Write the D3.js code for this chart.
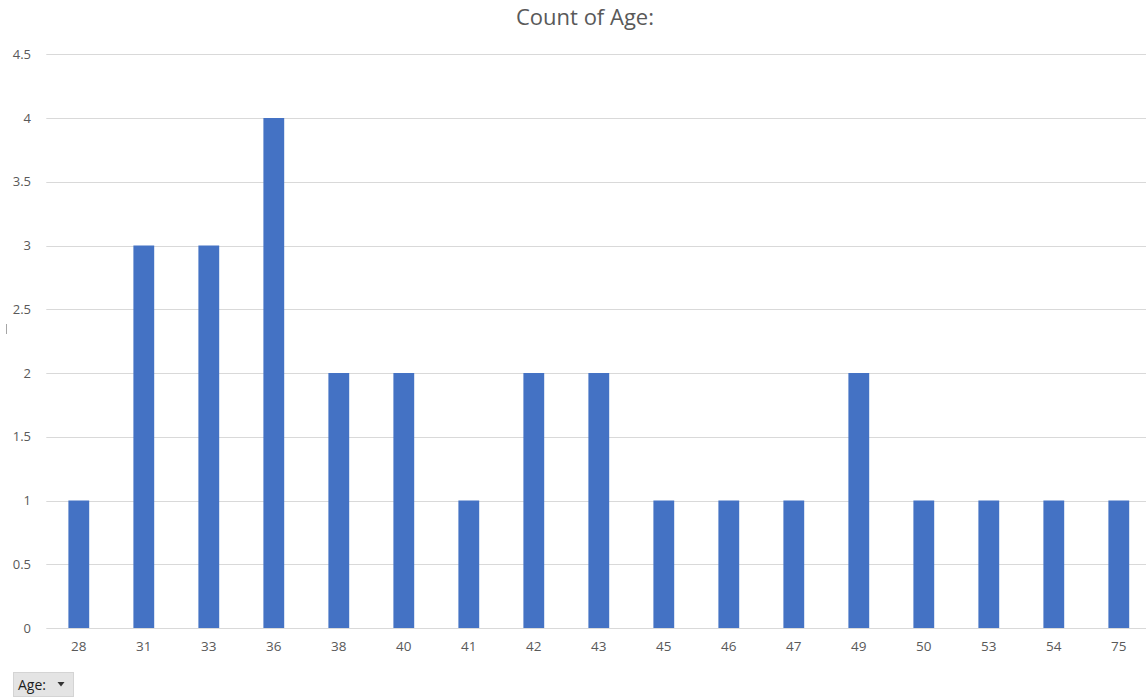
<!DOCTYPE html>
<html>
<head>
<meta charset="utf-8">
<script src="https://cdn.jsdelivr.net/npm/d3@7"></script>
<style>
  html, body { margin: 0; padding: 0; background: #ffffff; }
  svg { display: block; }
</style>
</head>
<body>
<svg id="chart" width="1146" height="698"></svg>
<script>
// Age values (categories) and how many times each appears
const ages = ["28", "31", "33", "36", "38", "40", "41", "42", "43", "45", "46", "47", "49", "50", "53", "54", "75"];
const counts = [1, 3, 3, 4, 2, 2, 1, 2, 2, 1, 1, 1, 2, 1, 1, 1, 1];
const yTicks = [0, 0.5, 1, 1.5, 2, 2.5, 3, 3.5, 4, 4.5];
const chartTitle = "Count of Age:";
const filterLabel = "Age:";

const font = "'Open Sans', 'Noto Sans', sans-serif";
const textColor = "#595959";
const barColor = "#4472C4";
const gridColor = "#d9d9d9";

const svg = d3.select("#chart");
const plot = { left: 46.3, right: 1151.3, top: 54.25, bottom: 628 };

const x = d3.scaleBand()
  .domain(ages)
  .range([plot.left, plot.right])
  .paddingInner(0.68)
  .paddingOuter(0.34);

const y = d3.scaleLinear()
  .domain([0, 4.5])
  .range([plot.bottom, plot.top]);

// Title
svg.append("text")
  .attr("x", 585)
  .attr("y", 25)
  .attr("text-anchor", "middle")
  .attr("font-family", font)
  .attr("font-size", 22)
  .attr("fill", textColor)
  .text(chartTitle);

// Horizontal gridlines
svg.append("g")
  .selectAll("line")
  .data(yTicks)
  .join("line")
  .attr("x1", plot.left)
  .attr("x2", 1146)
  .attr("y1", d => Math.round(y(d)) + 0.5)
  .attr("y2", d => Math.round(y(d)) + 0.5)
  .attr("stroke", gridColor)
  .attr("stroke-width", 1);

// Y axis labels
const yAxis = d3.axisLeft(y).tickValues(yTicks).tickSize(0).tickPadding(0).tickFormat(d3.format("~g"));
const gy = svg.append("g").attr("transform", "translate(31,0)").call(yAxis);
gy.select(".domain").remove();
gy.selectAll("text")
  .attr("font-family", font)
  .attr("font-size", 13)
  .attr("fill", textColor);

// Bars
svg.append("g")
  .selectAll("rect")
  .data(ages.map((a, i) => ({ age: a, count: counts[i] })))
  .join("rect")
  .attr("x", d => x(d.age))
  .attr("width", x.bandwidth())
  .attr("y", d => y(d.count))
  .attr("height", d => y(0) - y(d.count))
  .attr("fill", barColor);

// X axis labels
const xAxis = d3.axisBottom(x).tickSize(0).tickPadding(0);
const gx = svg.append("g").attr("transform", `translate(0,${plot.bottom + 13})`).call(xAxis);
gx.select(".domain").remove();
gx.selectAll("text")
  .attr("font-family", font)
  .attr("font-size", 13.5)
  .attr("fill", textColor);

// Small mark at left edge (axis title remnant)
svg.append("line")
  .attr("x1", 6.5).attr("x2", 6.5)
  .attr("y1", 324).attr("y2", 334)
  .attr("stroke", "#a6a6a6")
  .attr("stroke-width", 1);

// Field filter button
const btn = svg.append("g").attr("transform", "translate(13,672)");
btn.append("rect")
  .attr("x", 0.5).attr("y", 0.5)
  .attr("width", 60).attr("height", 24)
  .attr("fill", "#e4e4e4")
  .attr("stroke", "#d4d4d4");
btn.append("text")
  .attr("x", 5).attr("y", 17.5)
  .attr("font-family", font)
  .attr("font-size", 14)
  .attr("fill", "#1e1e1e")
  .text(filterLabel);
btn.append("path")
  .attr("d", "M44.5,10 L51.5,10 L48,14.5 Z")
  .attr("fill", "#333333");
</script>
</body>
</html>
